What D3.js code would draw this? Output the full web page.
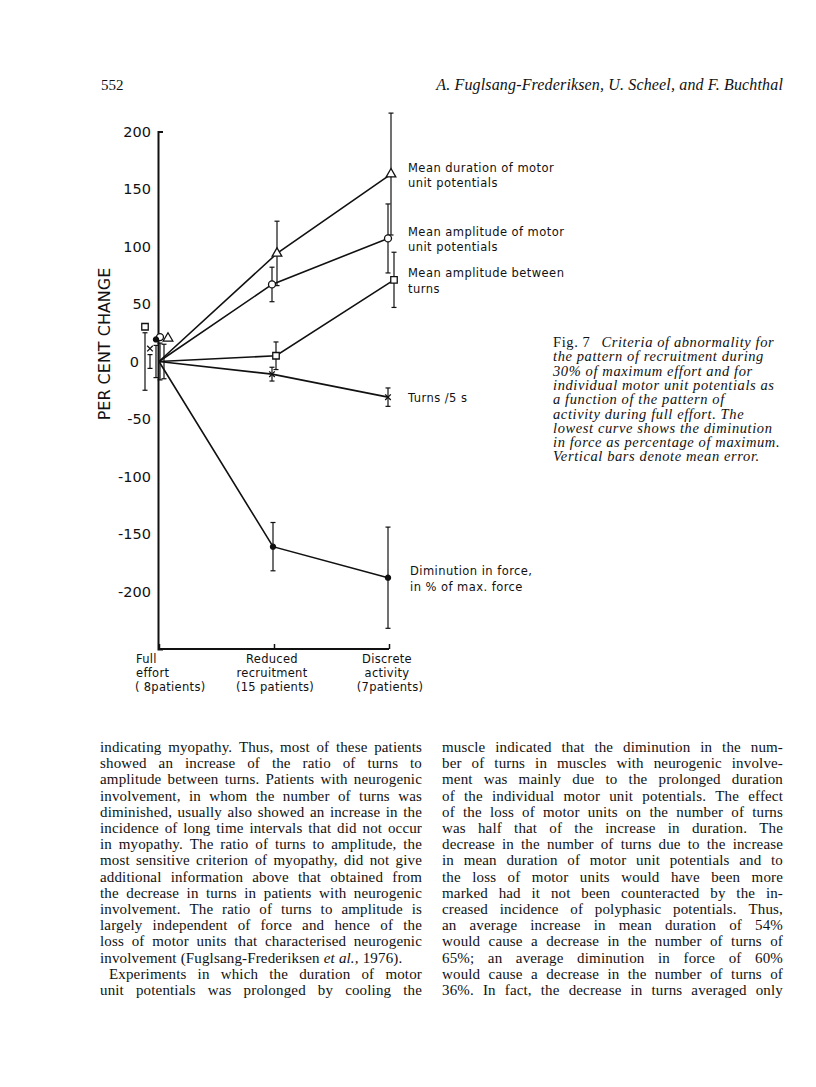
<!DOCTYPE html>
<html><head><meta charset="utf-8">
<script src="https://cdn.jsdelivr.net/npm/d3@7"></script>
<style>
html,body{margin:0;padding:0;background:#fff;}
svg{display:block;}
</style></head><body>
<svg id="page" width="816" height="1087"></svg>
<script>
// ---------------- data ----------------
const categories = ["Full effort", "Reduced recruitment", "Discrete activity"];
const categoryLabelLines = [["Full", "effort", "( 8patients)"], ["Reduced", "recruitment", "(15 patients)"], ["Discrete", "activity", "(7patients)"]];
const yTicks = [200, 150, 100, 50, 0, -50, -100, -150, -200];
const yDomain = [-250, 200];
const yTitle = "PER CENT CHANGE";

const seriesKeys = ["duration", "amplitude", "between", "turns", "force"];
const seriesLabels = [
  ["Mean duration of motor", "unit potentials"],
  ["Mean amplitude of motor", "unit potentials"],
  ["Mean amplitude between", "turns"],
  ["Turns /5 s"],
  ["Diminution in force,", "in % of max. force"]
];
const durationMean = [0, 94, 163];
const durationErr = [15, 28, 53];
const amplitudeMean = [0, 67, 107];
const amplitudeErr = [16, 15, 30];
const betweenMean = [0, 5, 71];
const betweenErr = [25, 12, 24];
const turnsMean = [0, -11, -31];
const turnsErr = [6, 6, 8];
const forceMean = [0, -161, -188];
const forceErr = [14, 21, 44];

const headerLeft = "552";
const headerRight = "A. Fuglsang-Frederiksen, U. Scheel, and F. Buchthal";
const captionHead = "Fig. 7";
const captionLines = [
  "Criteria of abnormality for",
  "the pattern of recruitment during",
  "30% of maximum effort and for",
  "individual motor unit potentials as",
  "a function of the pattern of",
  "activity during full effort. The",
  "lowest curve shows the diminution",
  "in force as percentage of maximum.",
  "Vertical bars denote mean error."
];
// "~" marks an italic word; second item = justified line
const leftColumn = [
  ["indicating myopathy. Thus, most of these patients", true],
  ["showed an increase of the ratio of turns to", true],
  ["amplitude between turns. Patients with neurogenic", true],
  ["involvement, in whom the number of turns was", true],
  ["diminished, usually also showed an increase in the", true],
  ["incidence of long time intervals that did not occur", true],
  ["in myopathy. The ratio of turns to amplitude, the", true],
  ["most sensitive criterion of myopathy, did not give", true],
  ["additional information above that obtained from", true],
  ["the decrease in turns in patients with neurogenic", true],
  ["involvement. The ratio of turns to amplitude is", true],
  ["largely independent of force and hence of the", true],
  ["loss of motor units that characterised neurogenic", true],
  ["involvement (Fuglsang-Frederiksen ~et ~al., 1976).", false],
  ["Experiments in which the duration of motor", true, "indent"],
  ["unit potentials was prolonged by cooling the", true]
];
const rightColumn = [
  ["muscle indicated that the diminution in the num-", true],
  ["ber of turns in muscles with neurogenic involve-", true],
  ["ment was mainly due to the prolonged duration", true],
  ["of the individual motor unit potentials. The effect", true],
  ["of the loss of motor units on the number of turns", true],
  ["was half that of the increase in duration. The", true],
  ["decrease in the number of turns due to the increase", true],
  ["in mean duration of motor unit potentials and to", true],
  ["the loss of motor units would have been more", true],
  ["marked had it not been counteracted by the in-", true],
  ["creased incidence of polyphasic potentials. Thus,", true],
  ["an average increase in mean duration of 54%", true],
  ["would cause a decrease in the number of turns of", true],
  ["65%; an average diminution in force of 60%", true],
  ["would cause a decrease in the number of turns of", true],
  ["36%. In fact, the decrease in turns averaged only", true]
];

// ---------------- styling ----------------
const ink = "#111";
const sansFont = "'DejaVu Sans', 'Liberation Sans', sans-serif";
const serifFont = "'Liberation Serif', 'Times New Roman', serif";
const seriesData = {
  duration: {mean: durationMean, err: durationErr},
  amplitude: {mean: amplitudeMean, err: amplitudeErr},
  between: {mean: betweenMean, err: betweenErr},
  turns: {mean: turnsMean, err: turnsErr},
  force: {mean: forceMean, err: forceErr}
};
const markerStyle = {
  duration: {type: d3.symbolTriangle, size: 40, fill: "#fff"},
  amplitude: {type: d3.symbolCircle, size: 38, fill: "#fff"},
  between: {type: d3.symbolSquare, size: 42, fill: "#fff"},
  turns: {type: d3.symbolTimes, size: 22, fill: "none"},
  force: {type: d3.symbolCircle, size: 20, fill: ink}
};
// small horizontal nudges (px) of error bars per category, as drawn in the original
const barNudge = {duration: [5, 3, 2], amplitude: [1, -2, -1], between: [-14, 2, 5], turns: [-9, -2, -1], force: [-3, -1, -1]};
const fullMarkerNudge = {duration: 9, amplitude: 1, between: -14, turns: -9, force: -3};

const svg = d3.select("#page");
const x = d3.scalePoint().domain(categories).range([159, 389]);
const y = d3.scaleLinear().domain(yDomain).range([649, 131.5]);
const axisX0 = 158;

// ---------------- header ----------------
svg.append("text").attr("x", 101).attr("y", 90).text(headerLeft)
  .style("font-family", serifFont).style("font-size", "15px").attr("fill", ink);
svg.append("text").attr("x", 783).attr("y", 90).attr("text-anchor", "end").text(headerRight)
  .style("font-family", serifFont).style("font-size", "16px").style("letter-spacing", "0.15px")
  .style("font-style", "italic").attr("fill", ink);

// ---------------- axes ----------------
const gy = svg.append("g").attr("transform", `translate(${axisX0},0)`)
  .call(d3.axisLeft(y).tickValues(yTicks).tickFormat(d => String(d)).tickSize(0).tickSizeOuter(-5).tickPadding(7));
gy.select(".domain").attr("stroke", ink).attr("stroke-width", 2);
gy.selectAll(".tick text").style("font-family", sansFont).style("font-size", "14.5px").attr("fill", ink);
gy.selectAll(".tick").filter(d => d === 0).select("text").attr("dx", -12);

const gx = svg.append("g").attr("transform", `translate(0,${y(yDomain[0])})`)
  .call(d3.axisBottom(x).tickSize(-5).tickSizeOuter(0).tickFormat(""));
gx.select(".domain").attr("stroke", ink).attr("stroke-width", 2).attr("d", `M${axisX0},0H${x(categories[2])}`);
gx.selectAll(".tick line").attr("stroke", ink).attr("stroke-width", 1.5);

// category labels
categories.forEach((c, i) => {
  categoryLabelLines[i].forEach((ln, j) => {
    const t = svg.append("text").attr("y", 663 + j * 14).text(ln)
      .style("font-family", sansFont).style("font-size", "11.5px").style("letter-spacing", "0.3px").attr("fill", ink);
    if (i === 0) {
      t.attr("x", x(c) - 24 + (j === 2 ? 0 : 1)).attr("text-anchor", "start");
    } else {
      t.attr("x", x(c) + (j === 2 ? 1 : -2)).attr("text-anchor", "middle");
    }
  });
});

// y title
svg.append("text").attr("transform", `translate(110,${(268 + 420) / 2}) rotate(-90)`)
  .attr("text-anchor", "middle").text(yTitle)
  .style("font-family", sansFont).style("font-size", "16px").attr("fill", ink);

// ---------------- series ----------------
const line = d3.line().x(d => d.x).y(d => d.y);
const gSeries = svg.append("g");
seriesKeys.forEach((key) => {
  const s = seriesData[key];
  const pts = categories.map((c, i) => ({
    x: i === 0 ? x(c) : x(c) + barNudge[key][i],
    y: y(s.mean[i])
  }));
  gSeries.append("path").attr("d", line(pts)).attr("fill", "none").attr("stroke", ink).attr("stroke-width", 1.6);

  categories.forEach((c, i) => {
    const bx = x(c) + barNudge[key][i];
    const y1 = y(s.mean[i] + s.err[i]), y2 = y(s.mean[i] - s.err[i]);
    const g = gSeries.append("g").attr("stroke", ink).attr("stroke-width", 1.2);
    g.append("line").attr("x1", bx).attr("x2", bx).attr("y1", y1).attr("y2", y2);
    g.append("line").attr("x1", bx - 2.5).attr("x2", bx + 2.5).attr("y1", y1).attr("y2", y1);
    g.append("line").attr("x1", bx - 2.5).attr("x2", bx + 2.5).attr("y1", y2).attr("y2", y2);
  });
});
seriesKeys.forEach((key, si) => {
  const s = seriesData[key];
  const ms = markerStyle[key];
  const sym = d3.symbol().type(ms.type).size(ms.size);
  categories.forEach((c, i) => {
    let mx, my;
    if (i === 0) {
      mx = x(c) + fullMarkerNudge[key];
      my = y(s.mean[i] + s.err[i]) - 6;
    } else {
      mx = x(c) + barNudge[key][i];
      my = y(s.mean[i]);
    }
    gSeries.append("path").attr("d", sym()).attr("transform", `translate(${mx},${my})`)
      .attr("fill", ms.fill).attr("stroke", ink).attr("stroke-width", 1.3);
  });
  const lastX = x(categories[2]) + (key === "force" ? 21 : 19);
  const labs = seriesLabels[si];
  const baseY = y(s.mean[2]) + (labs.length > 1 ? -7 : 0) + 4.5;
  labs.forEach((ln, j) => {
    svg.append("text").attr("x", lastX).attr("y", baseY + j * 15.5).text(ln)
      .style("font-family", sansFont).style("font-size", "11.5px").style("letter-spacing", "0.45px").attr("fill", ink);
  });
});

// ---------------- caption ----------------
const capX = 553, capY = 347, capDy = 14.3;
captionLines.forEach((ln, i) => {
  const t = svg.append("text").attr("x", capX).attr("y", capY + i * capDy)
    .style("font-family", serifFont).style("font-size", "14.5px").style("letter-spacing", "0.6px").attr("fill", ink);
  if (i === 0) {
    t.append("tspan").text(captionHead);
    t.append("tspan").attr("dx", 11).style("font-style", "italic").text(ln);
  } else {
    t.style("font-style", "italic").text(ln);
  }
});

// ---------------- body text ----------------
function drawColumn(rows, x0, x1, y0, dy, size) {
  const g = svg.append("g");
  rows.forEach((r, i) => {
    const [txt, justify, indent] = r;
    const words = txt.split(" ");
    const t = g.append("text").attr("y", y0 + i * dy)
      .style("font-family", serifFont).style("font-size", size + "px").style("letter-spacing", "0.15px").attr("fill", ink);
    const spans = words.map(w => {
      const it = w.startsWith("~");
      const sp = t.append("tspan").text(it ? w.slice(1) : w);
      if (it) sp.style("font-style", "italic");
      return sp;
    });
    const widths = spans.map(sp => sp.node().getComputedTextLength());
    const start = x0 + (indent ? 9 : 0);
    const total = d3.sum(widths);
    let gap = justify && words.length > 1 ? (x1 - start - total) / (words.length - 1) : size * 0.27;
    gap = Math.max(gap, 2);
    let cx = start;
    spans.forEach((sp, k) => { sp.attr("x", cx); cx += widths[k] + gap; });
  });
}
drawColumn(leftColumn, 100, 422, 752, 16.2, 15);
drawColumn(rightColumn, 442, 783, 752, 16.2, 15);
</script>
</body></html>
